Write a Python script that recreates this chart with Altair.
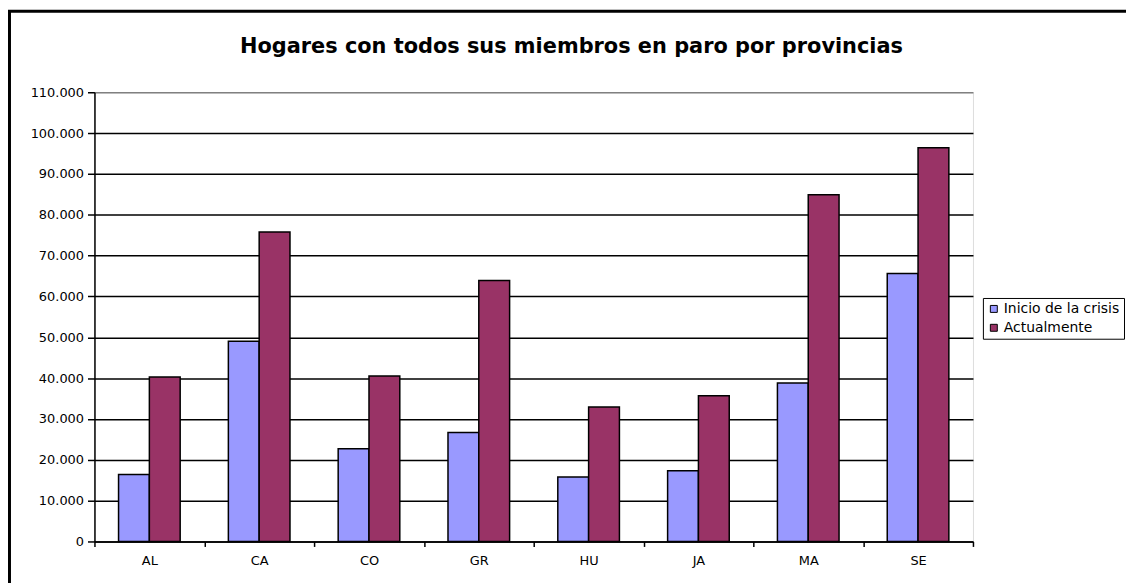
import altair as alt
import pandas as pd

provincias = ["AL", "CA", "CO", "GR", "HU", "JA", "MA", "SE"]
series = ["Inicio de la crisis", "Actualmente"]
inicio = [16400, 49000, 22700, 26700, 15800, 17300, 38800, 65600]
actual = [40300, 75800, 40500, 63900, 32900, 35700, 84900, 96400]
colores = ["#9999FF", "#993366"]
y_ticks = list(range(0, 110001, 10000))
titulo = "Hogares con todos sus miembros en paro por provincias"

rows = []
for p, a, b in zip(provincias, inicio, actual):
    rows.append({"prov": p, "serie": series[0], "valor": a})
    rows.append({"prov": p, "serie": series[1], "valor": b})
df = pd.DataFrame(rows)

FONT = "DejaVu Sans"
W, H = 884, 452

bars = alt.Chart(df).mark_bar(stroke="black", strokeWidth=1.5).encode(
    x=alt.X("prov:N", sort=provincias, title=None,
            scale=alt.Scale(paddingInner=0, paddingOuter=0),
            axis=alt.Axis(labelAngle=0, labelFont=FONT, labelFontSize=13,
                          labelColor="black", tickColor="black", tickSize=5,
                          tickWidth=1.5, tickBand="extent", domainColor="black",
                          domainWidth=1.5, labelPadding=8)),
    xOffset=alt.XOffset("serie:N", sort=series,
                        scale=alt.Scale(paddingInner=0, paddingOuter=0.782)),
    y=alt.Y("valor:Q", title=None,
            scale=alt.Scale(domain=[0, 110000], nice=False),
            axis=alt.Axis(values=y_ticks, labelFont=FONT, labelFontSize=13,
                          labelColor="black", tickColor="black", tickSize=7,
                          tickWidth=1.5, labelPadding=4, domainColor="black",
                          domainWidth=1.5, grid=True,
                          gridColor={"condition": {"test": "datum.value === 110000", "value": "#808080"}, "value": "black"},
                          gridWidth=1.5,
                          labelExpr="replace(format(datum.value, ','), regexp(',', 'g'), '.')")),
    color=alt.Color("serie:N", sort=series,
                    scale=alt.Scale(domain=series, range=colores),
                    legend=alt.Legend(title=None, orient="none", legendX=894, legendY=207,
                                      labelFont=FONT, labelFontSize=14, labelColor="black",
                                      symbolType="square", symbolSize=49,
                                      symbolStrokeColor="black", symbolStrokeWidth=1,
                                      strokeColor="black", fillColor="white",
                                      padding=4, rowPadding=5, labelOffset=3,
                                      cornerRadius=0)),
)

frame = alt.Chart(pd.DataFrame({"a": [0]})).mark_rect(
    fill=None, stroke="black", strokeWidth=3
).encode(
    x=alt.value(-85.5), x2=alt.value(2000),
    y=alt.value(-81.5), y2=alt.value(2000),
)

title = alt.Chart(pd.DataFrame({"t": [titulo]})).mark_text(
    font=FONT, fontSize=21, fontWeight="bold", color="black",
    align="center", baseline="alphabetic",
).encode(
    text="t:N", x=alt.value(480), y=alt.value(-40),
)

chart = alt.layer(bars, frame, title).properties(
    width=W, height=H,
    padding={"left": 87, "top": 83, "right": 154, "bottom": 40},
    autosize=alt.AutoSizeParams(type="none"),
).configure_view(
    fill="#C0C0C0", stroke="#808080", strokeWidth=1.5
).configure(background="white")

chart.save("out.html", embed_options={"renderer": "svg", "actions": False})
